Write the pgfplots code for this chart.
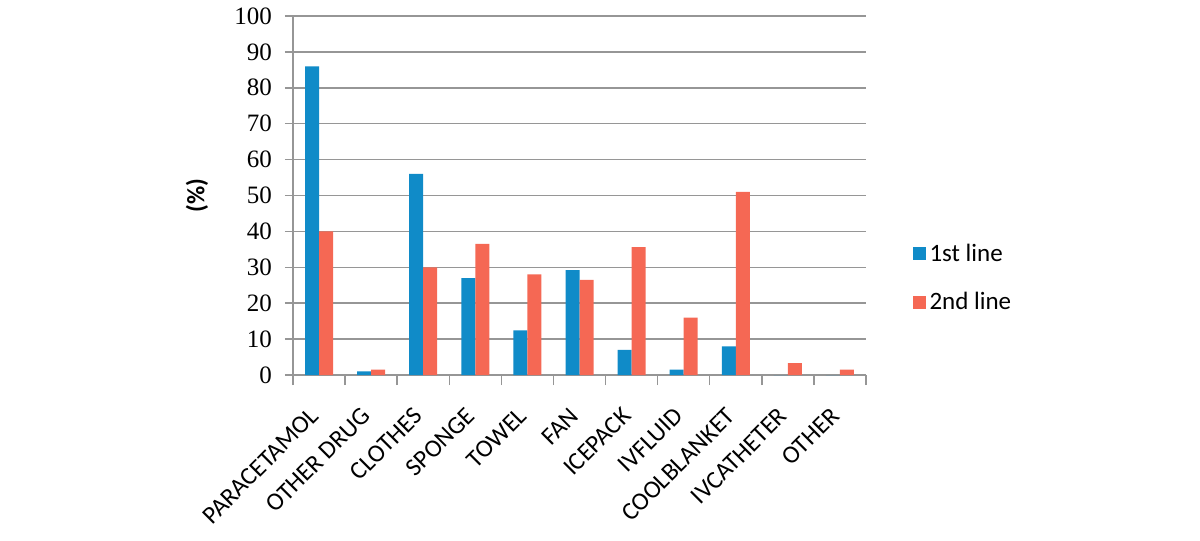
\documentclass[border=0pt]{standalone}
\usepackage{fontspec}
\setmainfont{Carlito}
\newfontfamily\tnr{Liberation Serif}
\usepackage{pgfplots}
\pgfplotsset{compat=1.18}
\definecolor{barblue}{RGB}{16,139,200}
\definecolor{barred}{RGB}{245,104,84}
\definecolor{gridgray}{RGB}{150,150,150}
\pgfplotsset{sqlegend/.style={legend image code/.code={\fill[##1] (0pt,-3.25pt) rectangle (6.5pt,3.25pt);}}}

\begin{document}
\begin{tikzpicture}[x=1pt,y=1pt]
\useasboundingbox (0,0) rectangle (600,270.5);
\begin{axis}[
  at={(146.5pt,83pt)}, anchor=south west,
  scale only axis, width=286.5pt, height=179.5pt,
  ybar=0pt, bar width=7pt,
  ymin=0, ymax=100, ytick={0,10,...,100},
  xmin=-0.5, xmax=10.5,
  xtick={0,...,10},
  xticklabels={PARACETAMOL,OTHER DRUG,CLOTHES,SPONGE,TOWEL,FAN,ICEPACK,IVFLUID,COOLBLANKET,IVCATHETER,OTHER},
  minor xtick={-0.5,0.5,...,10.5},
  axis x line=bottom, axis y line=left,
  axis line style={-, gridgray, line width=0.75pt},
  tick align=outside,
  major tick length=4pt, minor tick length=5pt,
  major x tick style={draw=none},
  minor x tick style={gridgray, line width=0.75pt},
  major y tick style={gridgray, line width=0.75pt},
  ymajorgrids, major grid style={gridgray, line width=0.75pt},
  /pgf/number format/assume math mode=true,
  yticklabel style={font=\tnr\fontsize{12.5}{14}\selectfont, xshift=-3pt},
  xticklabel shift=12pt,
  xticklabel style={rotate=45, anchor=east, font=\fontsize{12.5}{15}\selectfont},
  ylabel={\bfseries (\%)},
  ylabel style={at={(axis description cs:-0.1675,0.5)}, anchor=center, font=\fontsize{12.5}{15}\selectfont},
  legend style={draw=none, fill=none, at={(axis description cs:1.07,0.27)}, anchor=west,
    font=\fontsize{12.5}{15}\selectfont, row sep=10pt},
  legend cell align=left,
]
\addplot[fill=barblue, draw=none, sqlegend]
  coordinates {(0,86) (1,1) (2,56) (3,27) (4,12.4) (5,29.2) (6,7) (7,1.5) (8,8) (9,0) (10,0)};
\addlegendentry{1st line}
\addplot[fill=barred, draw=none, sqlegend]
  coordinates {(0,40) (1,1.5) (2,30) (3,36.5) (4,28) (5,26.5) (6,35.6) (7,16) (8,51) (9,3.3) (10,1.5)};
\addlegendentry{2nd line}
\end{axis}
\end{tikzpicture}
\end{document}
